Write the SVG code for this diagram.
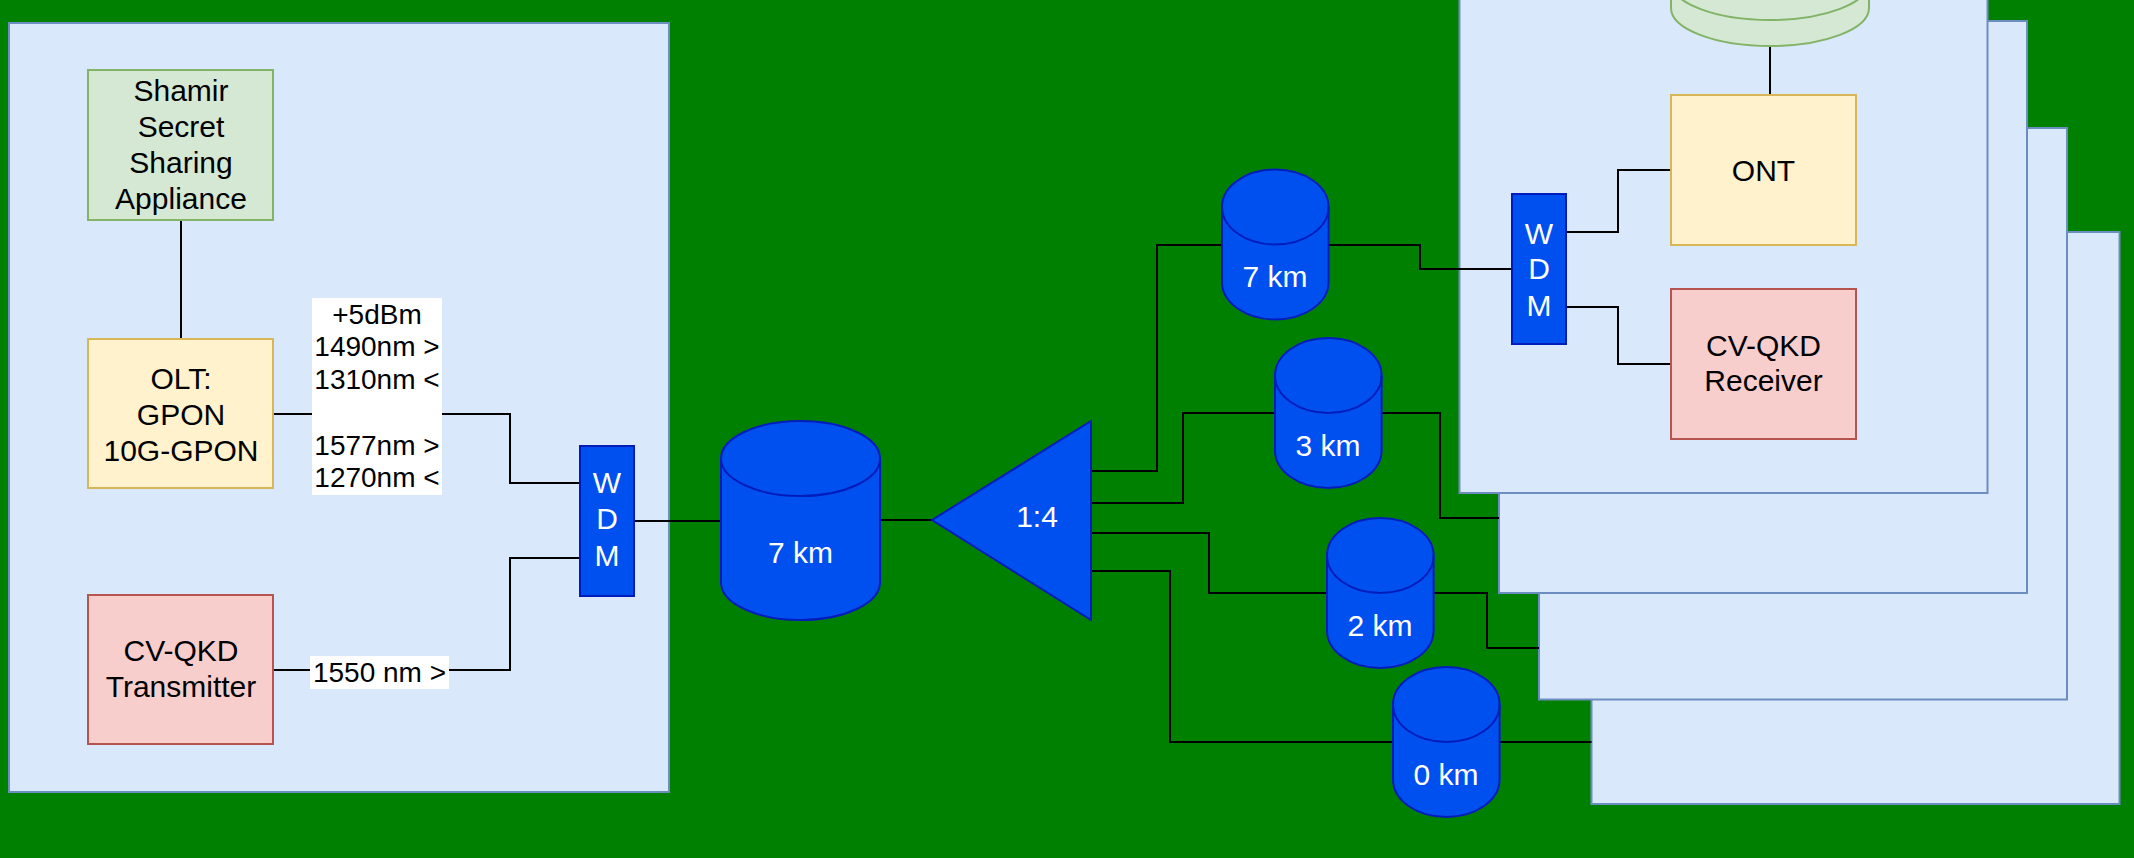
<svg xmlns="http://www.w3.org/2000/svg" width="2134" height="858" viewBox="0 0 2134 858">
  <defs>
    <style>
      .bg { fill: #008000; }
      .panel { fill: #dae8fc; stroke: #6c8ebf; stroke-width: 2; }
      .green { fill: #d5e8d4; stroke: #82b366; stroke-width: 2; }
      .yellow { fill: #fff2cc; stroke: #d6b656; stroke-width: 2; }
      .red { fill: #f8cecc; stroke: #b85450; stroke-width: 2; }
      .blue { fill: #0050ef; stroke: #001dbc; stroke-width: 2; }
      .rim { fill: none; stroke: #001dbc; stroke-width: 2; }
      .rimg { fill: none; stroke: #82b366; stroke-width: 2; }
      .label { fill: #ffffff; }
      .wire { fill: none; stroke: #000000; stroke-width: 2; }
      text { font-family: "Liberation Sans", Arial, Helvetica, sans-serif; text-anchor: middle; }
      .t { font-size: 30px; fill: #000000; }
      .tw { font-size: 30px; fill: #ffffff; }
      .tl { font-size: 28px; fill: #000000; }
    </style>
  </defs>

  <rect class="bg" x="0" y="0" width="2134" height="858"/>

  <!-- OLT side enclosure -->
  <g id="olt-site">
    <rect class="panel" x="9" y="23" width="660" height="769"/>
  </g>

  <!-- stacked ONU enclosures, back to front -->
  <g id="onu-4"><rect class="panel" x="1591.5" y="232" width="528" height="572"/></g>
  <g id="onu-3"><rect class="panel" x="1539" y="128" width="528" height="571.5"/></g>
  <g id="onu-2"><rect class="panel" x="1499" y="21" width="528" height="572"/></g>
  <g id="onu-1"><rect class="panel" x="1459.5" y="-79" width="528" height="572"/></g>

  <!-- connectors -->
  <g id="connectors">
    <path class="wire" d="M181,220 V339"/>
    <path class="wire" d="M273,414 H510 V483 H580"/>
    <path class="wire" d="M273,670 H510 V558 H580"/>
    <path class="wire" d="M634,521 H721"/>
    <path class="wire" d="M880,520 H932"/>
    <path class="wire" d="M1091,471 H1157 V245 H1222"/>
    <path class="wire" d="M1328,245 H1420 V269 H1512"/>
    <path class="wire" d="M1091,503 H1183 V413 H1275"/>
    <path class="wire" d="M1381,413 H1440 V518 H1499"/>
    <path class="wire" d="M1091,533 H1209 V593 H1327"/>
    <path class="wire" d="M1434,593 H1487 V648 H1539"/>
    <path class="wire" d="M1091,571 H1170 V742 H1393"/>
    <path class="wire" d="M1500,742 H1591.5"/>
    <path class="wire" d="M1566,232 H1618 V170 H1671"/>
    <path class="wire" d="M1566,307 H1618 V364 H1671"/>
    <path class="wire" d="M1770,46 V95"/>
  </g>

  <!-- OLT site contents -->
  <g id="shamir">
    <rect class="green" x="88" y="70" width="185" height="150"/>
    <text class="t" x="181" y="101">Shamir</text>
    <text class="t" x="181" y="137">Secret</text>
    <text class="t" x="181" y="173">Sharing</text>
    <text class="t" x="181" y="209">Appliance</text>
  </g>

  <g id="olt">
    <rect class="yellow" x="88" y="339" width="185" height="149"/>
    <text class="t" x="181" y="389">OLT:</text>
    <text class="t" x="181" y="425">GPON</text>
    <text class="t" x="181" y="461">10G-GPON</text>
  </g>

  <g id="olt-wavelengths">
    <rect class="label" x="312" y="298" width="130" height="197"/>
    <text class="tl" x="377" y="324">+5dBm</text>
    <text class="tl" x="377" y="356">1490nm &gt;</text>
    <text class="tl" x="377" y="389">1310nm &lt;</text>
    <text class="tl" x="377" y="455">1577nm &gt;</text>
    <text class="tl" x="377" y="487">1270nm &lt;</text>
  </g>

  <g id="cvqkd-tx">
    <rect class="red" x="88" y="595" width="185" height="149"/>
    <text class="t" x="181" y="661">CV-QKD</text>
    <text class="t" x="181" y="697">Transmitter</text>
  </g>

  <g id="tx-wavelength">
    <rect class="label" x="310" y="656" width="139" height="33"/>
    <text class="tl" x="379.5" y="682">1550 nm &gt;</text>
  </g>

  <g id="wdm-olt">
    <rect class="blue" x="580" y="446" width="54" height="150"/>
    <text class="tw" x="607" y="493">W</text>
    <text class="tw" x="607" y="529">D</text>
    <text class="tw" x="607" y="566">M</text>
  </g>

  <!-- feeder fibre -->
  <g id="fibre-feeder">
    <path class="blue" d="M721,458.5 A79.5,37.5 0 0 1 880,458.5 V582.5 A79.5,37.5 0 0 1 721,582.5 Z"/>
    <path class="rim" d="M721,458.5 A79.5,37.5 0 0 0 880,458.5"/>
    <text class="tw" x="800.5" y="563">7 km</text>
  </g>

  <g id="splitter">
    <polygon class="blue" points="932,520 1091,421 1091,620"/>
    <text class="tw" x="1037" y="527">1:4</text>
  </g>

  <!-- drop fibres -->
  <g id="fibre-7km">
    <path class="blue" d="M1222,207 A53.3,37.5 0 0 1 1328.6,207 V282 A53.3,37.5 0 0 1 1222,282 Z"/>
    <path class="rim" d="M1222,207 A53.3,37.5 0 0 0 1328.6,207"/>
    <text class="tw" x="1275" y="287">7 km</text>
  </g>
  <g id="fibre-3km">
    <path class="blue" d="M1275,375.5 A53.3,37.5 0 0 1 1381.6,375.5 V450.5 A53.3,37.5 0 0 1 1275,450.5 Z"/>
    <path class="rim" d="M1275,375.5 A53.3,37.5 0 0 0 1381.6,375.5"/>
    <text class="tw" x="1328" y="456">3 km</text>
  </g>
  <g id="fibre-2km">
    <path class="blue" d="M1327,555.5 A53.3,37.5 0 0 1 1433.6,555.5 V630.5 A53.3,37.5 0 0 1 1327,630.5 Z"/>
    <path class="rim" d="M1327,555.5 A53.3,37.5 0 0 0 1433.6,555.5"/>
    <text class="tw" x="1380" y="636">2 km</text>
  </g>
  <g id="fibre-0km">
    <path class="blue" d="M1393,704.5 A53.3,37.5 0 0 1 1499.6,704.5 V779.5 A53.3,37.5 0 0 1 1393,779.5 Z"/>
    <path class="rim" d="M1393,704.5 A53.3,37.5 0 0 0 1499.6,704.5"/>
    <text class="tw" x="1446" y="785">0 km</text>
  </g>

  <!-- ONU contents -->
  <g id="onu-store">
    <path class="green" d="M1671,-18 A99,38 0 0 1 1869,-18 V8 A99,38 0 0 1 1671,8 Z"/>
    <path class="rimg" d="M1671,-18 A99,38 0 0 0 1869,-18"/>
  </g>

  <g id="ont">
    <rect class="yellow" x="1671" y="95" width="185" height="150"/>
    <text class="t" x="1763.5" y="181">ONT</text>
  </g>

  <g id="cvqkd-rx">
    <rect class="red" x="1671" y="289" width="185" height="150"/>
    <text class="t" x="1763.5" y="356">CV-QKD</text>
    <text class="t" x="1763.5" y="391">Receiver</text>
  </g>

  <g id="wdm-onu">
    <rect class="blue" x="1512" y="194" width="54" height="150"/>
    <text class="tw" x="1539" y="244">W</text>
    <text class="tw" x="1539" y="279">D</text>
    <text class="tw" x="1539" y="316">M</text>
  </g>
</svg>
